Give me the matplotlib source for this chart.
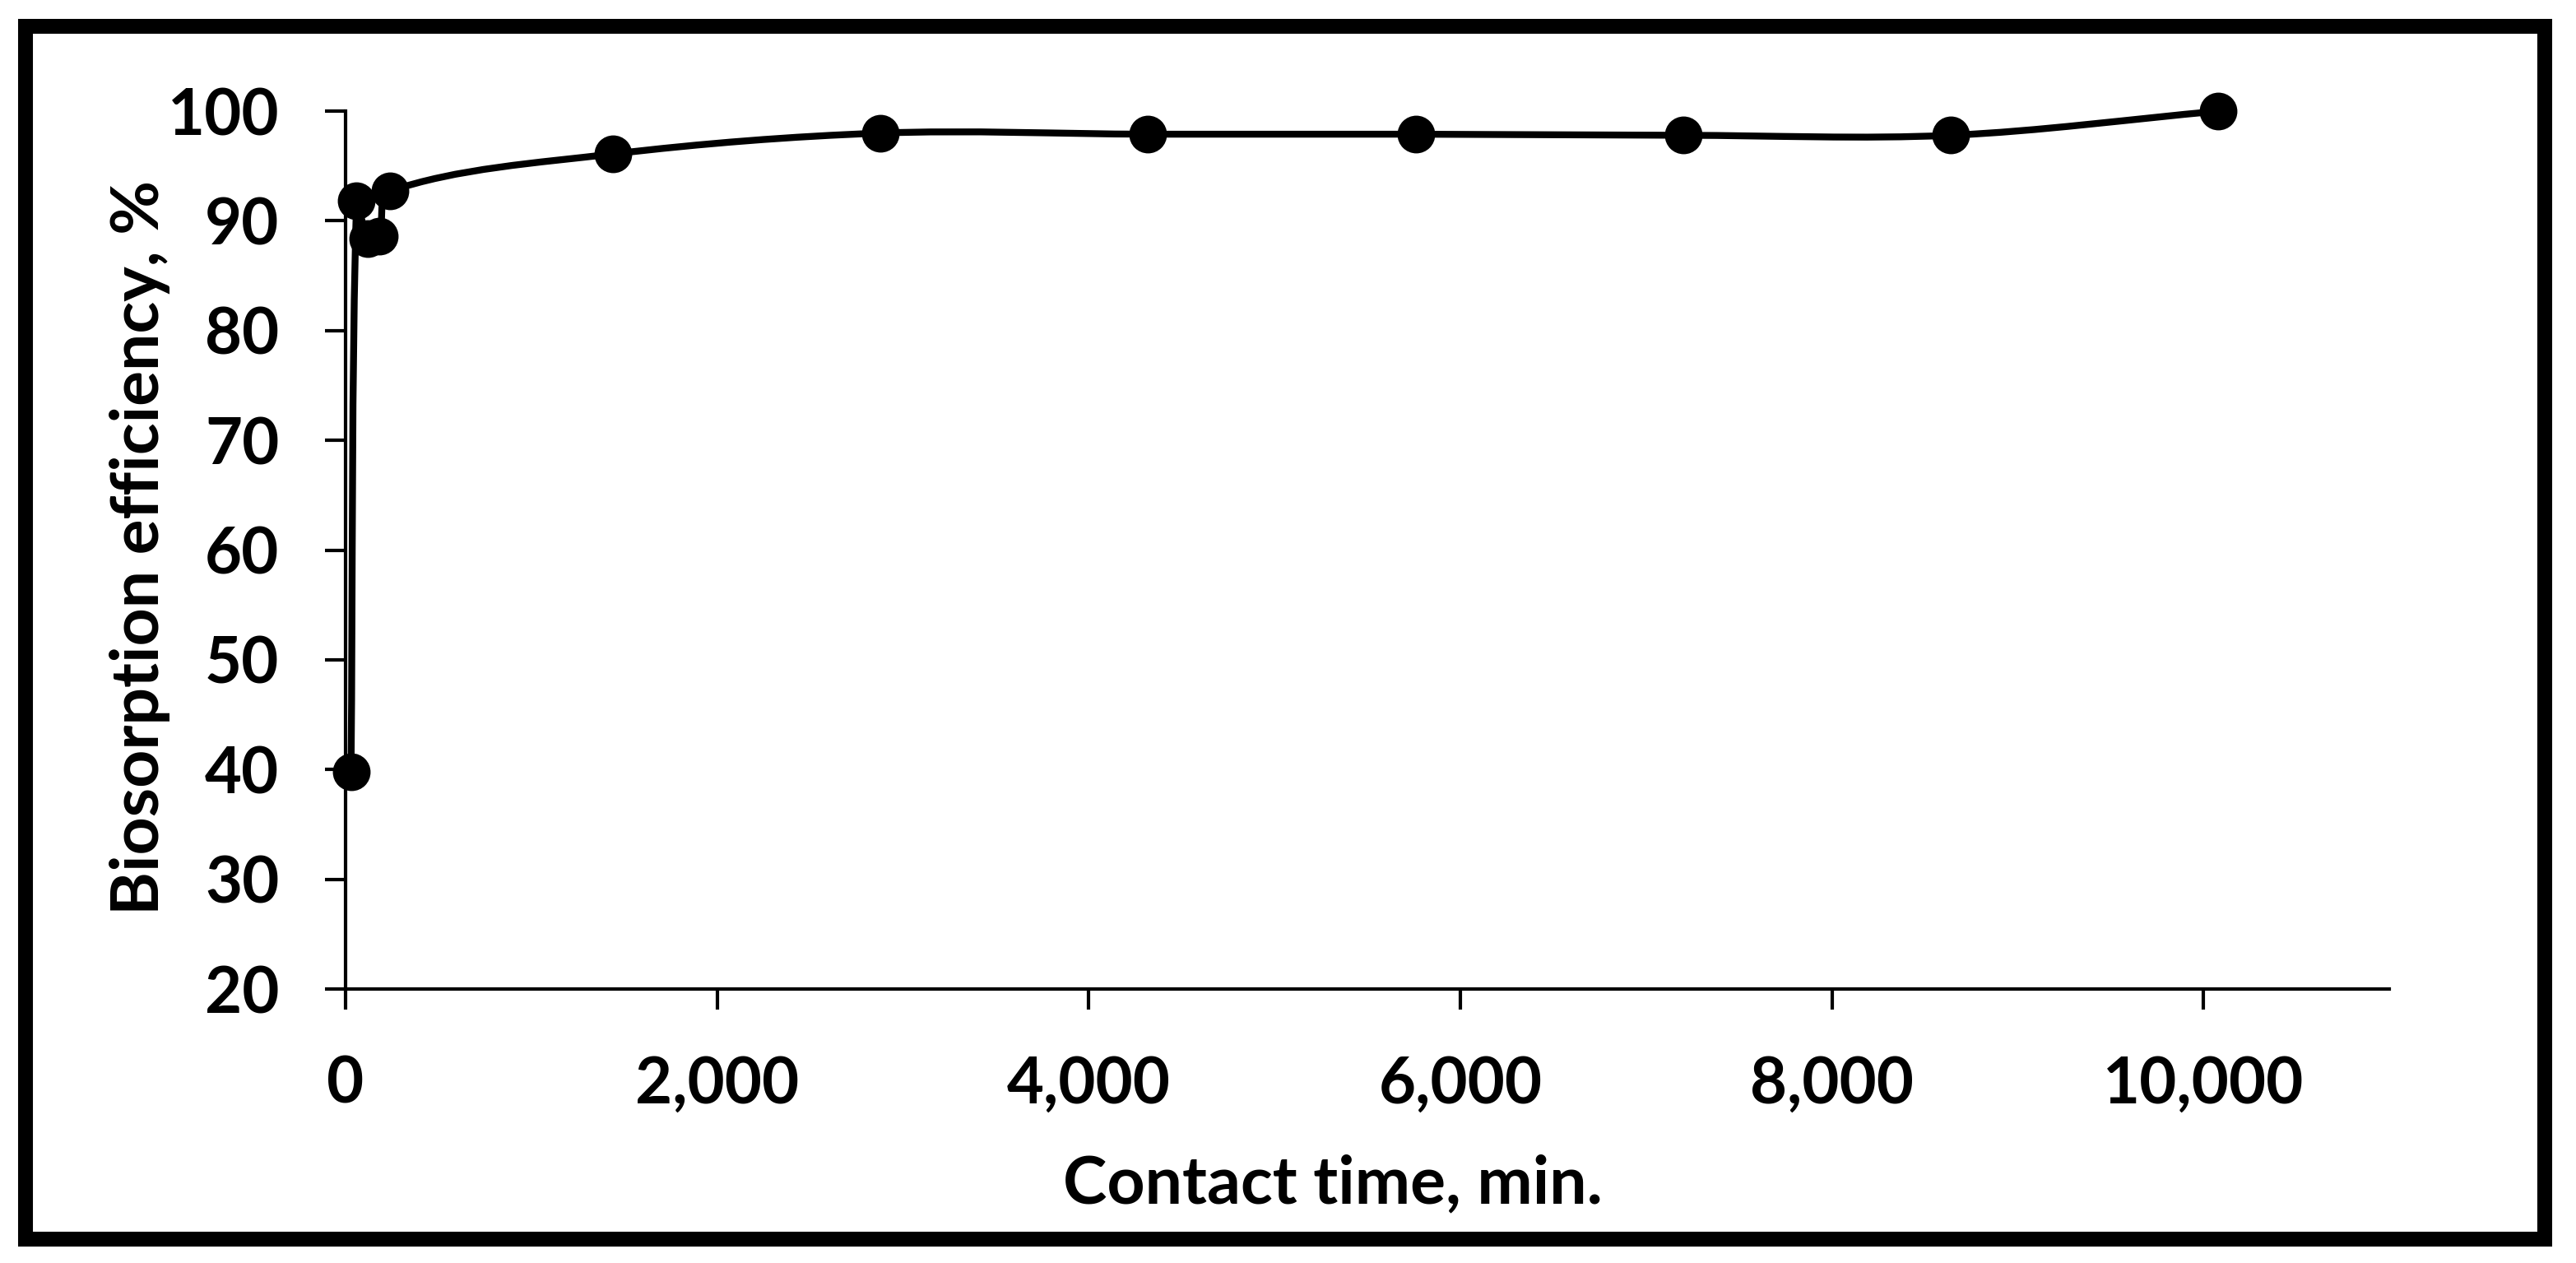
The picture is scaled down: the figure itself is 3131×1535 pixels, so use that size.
import numpy as np
import matplotlib
matplotlib.use("Agg")
import matplotlib.pyplot as plt
from matplotlib.path import Path
from matplotlib.patches import PathPatch, Rectangle
from matplotlib.ticker import StrMethodFormatter

# contact time (min) and biosorption efficiency (%)
time_min = [30, 60, 120, 180, 240, 1440, 2880, 4320, 5760, 7200, 8640, 10080]
efficiency = [39.8, 91.8, 88.4, 88.6, 92.7, 96.1, 98.0, 97.9, 97.9, 97.8, 97.8, 100.0]

x_ticks = [0, 2000, 4000, 6000, 8000, 10000]
y_ticks = [20, 30, 40, 50, 60, 70, 80, 90, 100]

FONT = "Lato"
FSIZE = 56
LABEL_SIZE = 58


def smooth_path(ax, xs, ys):
    """Excel-like smoothed line: cubic Bezier through the points,
    tangents scaled by neighbouring segment lengths (in screen space)."""
    pts = ax.transData.transform(np.column_stack([xs, ys]))
    n = len(pts)
    verts = [pts[0]]
    codes = [Path.MOVETO]
    for i in range(n - 1):
        p0 = pts[max(i - 1, 0)]
        p1 = pts[i]
        p2 = pts[i + 1]
        p3 = pts[min(i + 2, n - 1)]
        d01 = np.hypot(*(p1 - p0))
        d12 = np.hypot(*(p2 - p1))
        d23 = np.hypot(*(p3 - p2))
        c1 = p1 + (p2 - p0) * d12 / (d01 + d12) / 3
        c2 = p2 - (p3 - p1) * d12 / (d12 + d23) / 3
        verts += [c1, c2, p2]
        codes += [Path.CURVE4] * 3
    verts = ax.transData.inverted().transform(np.array(verts))
    return Path(verts, codes)


fig = plt.figure(figsize=(31.31, 15.35), dpi=100)
ax = fig.add_axes([0.1341, 0.2169, 0.7934, 0.6951])

ax.set_xlim(0, 11000)
ax.set_ylim(20, 100)
ax.set_xticks(x_ticks)
ax.set_yticks(y_ticks)
ax.xaxis.set_major_formatter(StrMethodFormatter("{x:,.0f}"))

for side in ("top", "right"):
    ax.spines[side].set_visible(False)
for side in ("left", "bottom"):
    ax.spines[side].set_linewidth(3)
ax.tick_params(axis="both", direction="out", length=18, width=3, pad=40)
for lab in ax.get_xticklabels() + ax.get_yticklabels():
    lab.set_fontfamily(FONT)
    lab.set_fontweight("bold")
    lab.set_fontsize(FSIZE)

# smoothed line, then markers on top
line = PathPatch(smooth_path(ax, time_min, efficiency), facecolor="none",
                 edgecolor="black", linewidth=6, capstyle="round", zorder=2)
line.set_clip_on(False)
ax.add_patch(line)
ax.plot(time_min, efficiency, "o", color="black", markersize=32, zorder=3,
        clip_on=False)

fig.text(0.5174, 0.0476, "Contact time, min.", ha="center", va="baseline",
         fontfamily=FONT, fontweight="bold", fontsize=LABEL_SIZE)
fig.text(0.0543, 1 - 665 / 1535, "Biosorption efficiency, %", rotation=90,
         ha="center", va="center", fontfamily=FONT, fontweight="bold",
         fontsize=LABEL_SIZE)

# heavy frame round the whole picture
fig.patches.append(Rectangle((0.0099, 0.0189), 0.978, 0.9603, transform=fig.transFigure,
                             fill=False, edgecolor="black", linewidth=13))

fig.savefig("out.png", dpi=100, facecolor="white")
